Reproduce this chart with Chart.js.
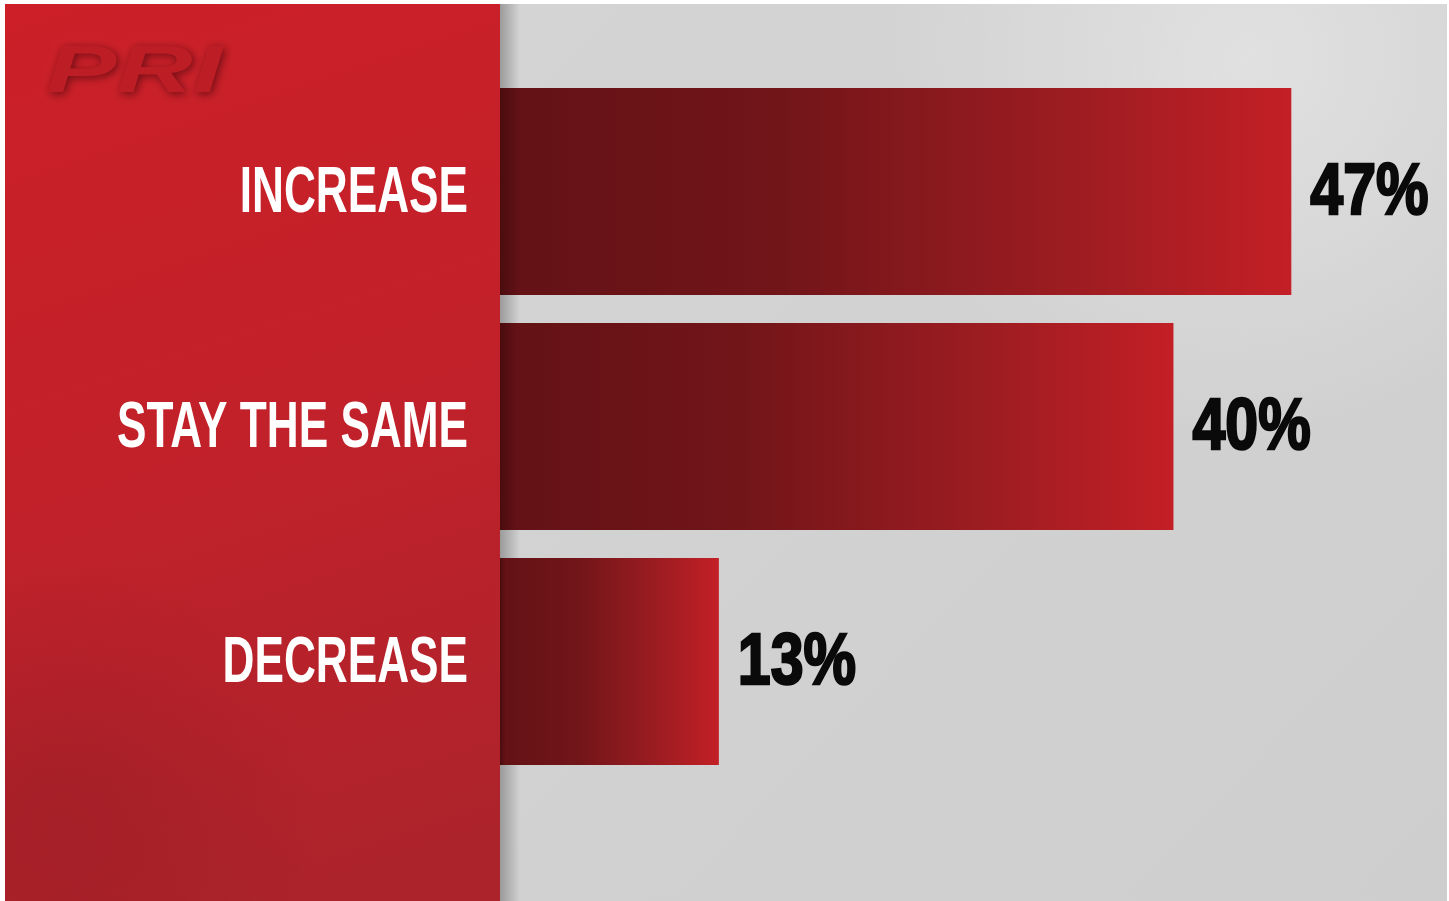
<!DOCTYPE html>
<html>
<head>
<meta charset="utf-8">
<script src="https://cdn.jsdelivr.net/npm/chart.js@4.4.1/dist/chart.umd.min.js"></script>
<style>
  html, body { margin: 0; padding: 0; background: #fff; }
  #wrap { width: 1449px; height: 901px; position: relative; }
</style>
</head>
<body>
<div id="wrap"><canvas id="chart"></canvas></div>
<script>
// survey answers, top to bottom
const categories = ['INCREASE', 'STAY THE SAME', 'DECREASE'];
const shares = [47, 40, 13];

const PANEL_RIGHT = 500;
const labelFont = "'Liberation Sans', 'Arial', sans-serif";

// background: red side panel with logo, concrete grey behind the bars
const backdrop = {
    id: 'backdrop',
    beforeDraw(chart) {
        const ctx = chart.ctx;
        const W = chart.width, H = chart.height;
        ctx.save();
        ctx.fillStyle = '#ffffff';
        ctx.fillRect(0, 0, W, H);

        // grey concrete
        let g = ctx.createLinearGradient(PANEL_RIGHT, 0, W, H);
        g.addColorStop(0, '#d4d4d4');
        g.addColorStop(0.5, '#d1d1d1');
        g.addColorStop(1, '#cecece');
        ctx.fillStyle = g;
        ctx.fillRect(PANEL_RIGHT, 4, W - PANEL_RIGHT - 2, H - 4);
        let r = ctx.createRadialGradient(1250, 60, 10, 1250, 60, 380);
        r.addColorStop(0, 'rgba(228,228,228,0.8)');
        r.addColorStop(1, 'rgba(228,228,228,0)');
        ctx.fillStyle = r;
        ctx.fillRect(PANEL_RIGHT, 4, W - PANEL_RIGHT - 2, H - 4);

        // shadow cast by the panel onto the grey
        g = ctx.createLinearGradient(PANEL_RIGHT, 0, PANEL_RIGHT + 20, 0);
        g.addColorStop(0, 'rgba(70,70,70,0.4)');
        g.addColorStop(1, 'rgba(70,70,70,0)');
        ctx.fillStyle = g;
        ctx.fillRect(PANEL_RIGHT, 4, 20, H - 4);

        // red panel
        g = ctx.createLinearGradient(5, 4, 300, H);
        g.addColorStop(0, '#cc1f28');
        g.addColorStop(0.5, '#c2212a');
        g.addColorStop(1, '#ad232b');
        ctx.fillStyle = g;
        ctx.fillRect(5, 4, PANEL_RIGHT - 5, H - 4);
        r = ctx.createRadialGradient(60, 820, 10, 60, 820, 260);
        r.addColorStop(0, 'rgba(120,22,28,0.25)');
        r.addColorStop(1, 'rgba(120,22,28,0)');
        ctx.fillStyle = r;
        ctx.fillRect(5, 4, PANEL_RIGHT - 5, H - 4);

        // embossed logo
        ctx.translate(46, 92);
        ctx.scale(1.6, 1);
        ctx.font = "italic bold 66px 'Liberation Sans', sans-serif";
        ctx.textBaseline = 'alphabetic';
        ctx.shadowColor = 'rgba(90,8,14,0.8)';
        ctx.shadowBlur = 9;
        ctx.shadowOffsetX = 2;
        ctx.shadowOffsetY = 2;
        ctx.fillStyle = '#bd1d25';
        ctx.fillText('PRI', 0, 0);
        ctx.restore();
    }
};

// category names in the red panel and percentages past each bar end
const barText = {
    id: 'barText',
    afterDatasetsDraw(chart) {
        const ctx = chart.ctx;
        const yScale = chart.scales.y;
        const meta = chart.getDatasetMeta(0);
        ctx.save();
        ctx.textBaseline = 'middle';

        categories.forEach((name, i) => {
            const y = yScale.getPixelForTick(i);
            ctx.save();
            ctx.translate(PANEL_RIGHT - 32, y + 3);
            ctx.scale(0.69, 1);
            ctx.font = "bold 64px " + labelFont;
            ctx.textAlign = 'right';
            ctx.fillStyle = '#ffffff';
            ctx.fillText(name, 0, 0);
            ctx.restore();
        });

        meta.data.forEach((bar, i) => {
            ctx.save();
            ctx.translate(bar.x + 19, bar.y + 3);
            ctx.scale(0.82, 1);
            ctx.font = "bold 72px " + labelFont;
            ctx.textAlign = 'left';
            ctx.fillStyle = '#0a0a0a';
            ctx.strokeStyle = '#0a0a0a';
            ctx.lineWidth = 2.5;
            const txt = shares[i] + '%';
            ctx.strokeText(txt, 0, 0);
            ctx.fillText(txt, 0, 0);
            ctx.restore();
        });
        ctx.restore();
    }
};

// dark-to-red fill running along each bar
function barFill(context) {
    const chart = context.chart;
    const xScale = chart.scales.x;
    if (!chart.chartArea || !xScale || context.raw === undefined) return '#8a1a1e';
    const x0 = xScale.getPixelForValue(0);
    const x1 = xScale.getPixelForValue(context.raw);
    if (!isFinite(x1) || x1 <= x0) return '#8a1a1e';
    const g = chart.ctx.createLinearGradient(x0, 0, x1, 0);
    g.addColorStop(0, '#4a0c0e');
    g.addColorStop(0.025, '#641216');
    g.addColorStop(0.35, '#711519');
    g.addColorStop(0.75, '#a01d22');
    g.addColorStop(1, '#c31f26');
    return g;
}

new Chart(document.getElementById('chart'), {
    type: 'bar',
    data: {
        labels: categories,
        datasets: [{
            data: shares,
            backgroundColor: barFill,
            borderWidth: 0,
            barPercentage: 0.88,
            categoryPercentage: 1
        }]
    },
    options: {
        indexAxis: 'y',
        responsive: true,
        maintainAspectRatio: false,
        animation: false,
        layout: { padding: { top: 74, bottom: 122, right: 23, left: 0 } },
        plugins: {
            legend: { display: false },
            tooltip: { enabled: false }
        },
        scales: {
            x: {
                display: false,
                min: 0,
                max: 55
            },
            y: {
                display: true,
                afterFit(scale) { scale.width = PANEL_RIGHT; },
                grid: { display: false, drawTicks: false },
                border: { display: false },
                ticks: { display: false }
            }
        }
    },
    plugins: [backdrop, barText]
});
</script>
</body>
</html>
